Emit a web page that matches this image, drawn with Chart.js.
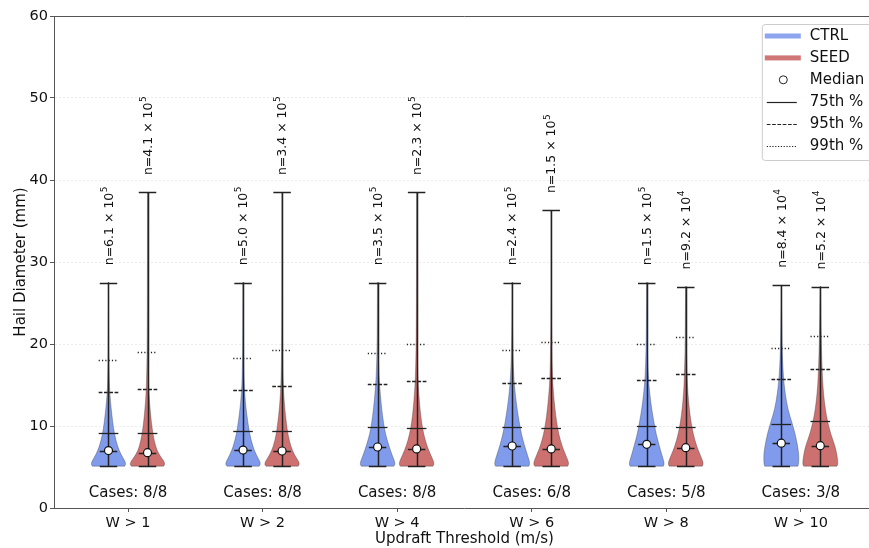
<!DOCTYPE html>
<html>
<head>
<meta charset="utf-8">
<script src="https://cdn.jsdelivr.net/npm/chart.js@4.4.0/dist/chart.umd.min.js"></script>
<style>
  html, body { margin: 0; padding: 0; overflow: hidden; background: #fff; }
</style>
</head>
<body>
<canvas id="grafico" width="880" height="548"></canvas>
<script>
// Datos
const categories = ["W > 1", "W > 2", "W > 4", "W > 6", "W > 8", "W > 10"];
const cases = ["8/8", "8/8", "8/8", "6/8", "5/8", "3/8"];

const ctrlN = ["6.1", "5.0", "3.5", "2.4", "1.5", "8.4"];
const ctrlExp = ["5", "5", "5", "5", "5", "4"];
const seedN = ["4.1", "3.4", "2.3", "1.5", "9.2", "5.2"];
const seedExp = ["5", "5", "5", "5", "4", "4"];

const ctrlMin = [5.1, 5.1, 5.1, 5.1, 5.1, 5.1];
const ctrlMax = [27.5, 27.5, 27.5, 27.5, 27.5, 27.2];
const ctrlMedian = [7.0, 7.07, 7.44, 7.56, 7.76, 7.9];
const ctrlP75 = [9.1, 9.4, 9.84, 9.9, 10.0, 10.3];
const ctrlP95 = [14.2, 14.4, 15.1, 15.3, 15.6, 15.7];
const ctrlP99 = [18.05, 18.3, 18.95, 19.27, 19.95, 19.55];

const seedMin = [5.1, 5.1, 5.1, 5.1, 5.1, 5.1];
const seedMax = [38.5, 38.5, 38.5, 36.3, 27.0, 27.0];
const seedMedian = [6.75, 6.95, 7.2, 7.2, 7.36, 7.6];
const seedP75 = [9.1, 9.4, 9.76, 9.76, 9.84, 10.65];
const seedP95 = [14.5, 14.9, 15.5, 15.8, 16.3, 16.95];
const seedP99 = [19.0, 19.3, 19.95, 20.3, 20.8, 21.0];

// perfil de densidad (ancho relativo) en estos niveles de diámetro
const densityLevels = [5.1, 5.3, 5.7, 6.5, 7.5, 9, 10.5, 12, 14, 16, 19, 23, 30, 38.5];
const ctrlDensity = [
  [0.92, 0.99, 0.95, 0.72, 0.52, 0.34, 0.24, 0.16, 0.07, 0.04, 0.02, 0.01, 0.005, 0],
  [0.92, 1.0, 0.96, 0.75, 0.56, 0.38, 0.27, 0.18, 0.09, 0.05, 0.025, 0.012, 0.005, 0],
  [0.93, 1.0, 0.97, 0.82, 0.66, 0.45, 0.33, 0.24, 0.15, 0.08, 0.035, 0.015, 0.005, 0],
  [0.95, 1.0, 0.99, 0.87, 0.72, 0.53, 0.4, 0.29, 0.17, 0.09, 0.04, 0.015, 0, 0],
  [0.95, 1.0, 0.98, 0.86, 0.73, 0.54, 0.41, 0.29, 0.17, 0.09, 0.04, 0.015, 0, 0],
  [0.95, 0.98, 1.0, 1.0, 0.94, 0.8, 0.6, 0.38, 0.22, 0.12, 0.05, 0.02, 0, 0]
];
const seedDensity = [
  [0.92, 1.0, 0.95, 0.66, 0.46, 0.31, 0.22, 0.15, 0.08, 0.05, 0.025, 0.012, 0.006, 0.003],
  [0.92, 1.0, 0.95, 0.7, 0.5, 0.33, 0.24, 0.16, 0.09, 0.05, 0.03, 0.015, 0.007, 0.003],
  [0.93, 1.0, 0.97, 0.8, 0.6, 0.4, 0.28, 0.2, 0.12, 0.07, 0.035, 0.015, 0.006, 0],
  [0.94, 1.0, 0.98, 0.82, 0.63, 0.43, 0.31, 0.22, 0.13, 0.07, 0.035, 0.015, 0.006, 0],
  [0.94, 1.0, 0.98, 0.82, 0.63, 0.43, 0.3, 0.21, 0.12, 0.08, 0.04, 0.02, 0, 0],
  [0.95, 1.0, 1.0, 0.95, 0.85, 0.6, 0.42, 0.29, 0.18, 0.12, 0.07, 0.03, 0, 0]
];

const FONT = '"DejaVu Sans", sans-serif';
const TXT = "#111";
const AXIS = "#555";

const grupos = [
  { name: "CTRL", offset: -0.145, fill: "rgb(128,155,235)", min: ctrlMin, max: ctrlMax, med: ctrlMedian,
    p75: ctrlP75, p95: ctrlP95, p99: ctrlP99, dens: ctrlDensity, n: ctrlN, exp: ctrlExp },
  { name: "SEED", offset: 0.145, fill: "rgb(205,112,112)", min: seedMin, max: seedMax, med: seedMedian,
    p75: seedP75, p95: seedP95, p99: seedP99, dens: seedDensity, n: seedN, exp: seedExp }
];

const HALF_W = 0.13;   // medio ancho máximo del violín (unidades de x)
const CAP_W = 0.065;
const PCT_W = 0.073;

function lado(ctx, P) {
  ctx.lineTo(P[0].x, P[0].y);
  for (let k = 1; k < P.length - 1; k++) {
    ctx.quadraticCurveTo(P[k].x, P[k].y, (P[k].x + P[k + 1].x) / 2, (P[k].y + P[k + 1].y) / 2);
  }
  ctx.lineTo(P[P.length - 1].x, P[P.length - 1].y);
}

function dibujarViolin(ctx, xs, ys, pos, dens, vmin, vmax, fill) {
  const cx = xs.getPixelForValue(pos);
  const pts = [];
  for (let k = 0; k < densityLevels.length; k++) {
    const lv = Math.max(densityLevels[k], vmin);
    if (lv >= vmax) {
      const f = dens[k - 1] + (dens[k] - dens[k - 1]) * (vmax - densityLevels[k - 1]) / (densityLevels[k] - densityLevels[k - 1]);
      pts.push({ v: vmax, f: f });
      break;
    }
    pts.push({ v: lv, f: dens[k] });
  }
  const px = pts.map(p => ({ y: ys.getPixelForValue(p.v), w: xs.getPixelForValue(pos + HALF_W * p.f) - cx }));
  ctx.beginPath();
  ctx.moveTo(cx, px[0].y);
  lado(ctx, px.map(p => ({ x: cx + p.w, y: p.y })));
  lado(ctx, px.slice().reverse().map(p => ({ x: cx - p.w, y: p.y })));
  ctx.closePath();
  ctx.fillStyle = fill;
  ctx.fill();
  ctx.lineWidth = 0.8;
  ctx.strokeStyle = "rgba(40,40,40,0.4)";
  ctx.stroke();
}

function hlinea(ctx, xs, ys, pos, half, v, dash, lw) {
  const y = Math.round(ys.getPixelForValue(v)) + 0.5;
  ctx.beginPath();
  ctx.setLineDash(dash);
  ctx.lineWidth = lw;
  ctx.moveTo(xs.getPixelForValue(pos - half), y);
  ctx.lineTo(xs.getPixelForValue(pos + half), y);
  ctx.stroke();
  ctx.setLineDash([]);
}

const violinPlugin = {
  id: "violines",
  beforeDatasetsDraw(chart) {
    const { ctx, scales: { x, y } } = chart;
    ctx.save();
    grupos.forEach(g => {
      categories.forEach((_, i) => {
        const pos = i + g.offset;
        dibujarViolin(ctx, x, y, pos, g.dens[i], g.min[i], g.max[i], g.fill);
        ctx.strokeStyle = "#222";
        // bigote vertical
        const cx = Math.round(x.getPixelForValue(pos)) + 0.5;
        ctx.beginPath();
        ctx.lineWidth = 1.5;
        ctx.moveTo(cx, y.getPixelForValue(g.min[i]));
        ctx.lineTo(cx, y.getPixelForValue(g.max[i]));
        ctx.stroke();
        hlinea(ctx, x, y, pos, CAP_W, g.min[i], [], 1.5);
        hlinea(ctx, x, y, pos, CAP_W, g.max[i], [], 1.5);
        hlinea(ctx, x, y, pos, CAP_W, g.med[i], [], 1.5);
        hlinea(ctx, x, y, pos, PCT_W, g.p75[i], [], 1.3);
        hlinea(ctx, x, y, pos, PCT_W, g.p95[i], [3.7, 1.6], 1.3);
        hlinea(ctx, x, y, pos, PCT_W, g.p99[i], [1.2, 2.1], 1.3);
      });
    });
    ctx.restore();
  },
  afterDatasetsDraw(chart) {
    const { ctx, scales: { x, y } } = chart;
    ctx.save();
    ctx.fillStyle = TXT;
    // etiquetas n=
    grupos.forEach(g => {
      categories.forEach((_, i) => {
        ctx.save();
        ctx.translate(x.getPixelForValue(i + g.offset) + 1, y.getPixelForValue(g.max[i] + 2.1));
        ctx.rotate(-Math.PI / 2);
        ctx.textAlign = "left";
        ctx.textBaseline = "middle";
        ctx.font = "12.5px " + FONT;
        const base = "n=" + g.n[i] + " \u00d7 10";
        ctx.fillText(base, 0, 0);
        const w = ctx.measureText(base).width;
        ctx.font = "9px " + FONT;
        ctx.fillText(g.exp[i], w + 0.5, -5);
        ctx.restore();
      });
    });
    // Cases
    ctx.font = "15px " + FONT;
    ctx.textAlign = "center";
    ctx.textBaseline = "middle";
    categories.forEach((_, i) => {
      ctx.fillText("Cases: " + cases[i], x.getPixelForValue(i), y.getPixelForValue(1.8));
    });
    ctx.restore();
  },
  afterDraw(chart) {
    const { ctx, chartArea: a } = chart;
    ctx.save();
    // borde superior
    ctx.strokeStyle = AXIS;
    ctx.lineWidth = 1;
    ctx.beginPath();
    ctx.moveTo(a.left, a.top + 0.5);
    ctx.lineTo(a.right, a.top + 0.5);
    ctx.stroke();
    // leyenda
    const L = a.right - 113, T = a.top + 8, W = 130, H = 136;
    ctx.beginPath();
    ctx.roundRect(L + 0.5, T + 0.5, W, H, 3);
    ctx.fillStyle = "rgba(255,255,255,0.85)";
    ctx.fill();
    ctx.strokeStyle = "#cccccc";
    ctx.stroke();
    const filas = ["CTRL", "SEED", "Median", "75th %", "95th %", "99th %"];
    ctx.font = "15px " + FONT;
    ctx.textAlign = "left";
    ctx.textBaseline = "middle";
    filas.forEach((t, k) => {
      const yy = T + 12 + k * 21.9;
      const x0 = L + 3, x1 = L + 38;
      ctx.strokeStyle = "#222";
      ctx.setLineDash([]);
      if (k < 2) {
        ctx.fillStyle = k === 0 ? "rgb(140,165,238)" : "rgb(208,118,118)";
        ctx.fillRect(x0, yy - 2.5, 36, 5);
      } else if (k === 2) {
        ctx.beginPath();
        ctx.arc((x0 + x1) / 2 + 1, yy, 4, 0, Math.PI * 2);
        ctx.fillStyle = "#fff";
        ctx.fill();
        ctx.lineWidth = 1;
        ctx.stroke();
      } else {
        ctx.lineWidth = 1.2;
        ctx.setLineDash(k === 3 ? [] : k === 4 ? [3.7, 1.6] : [1.2, 1.6]);
        ctx.beginPath();
        ctx.moveTo(x0 + 2, Math.round(yy) + 0.5);
        ctx.lineTo(x1 - 3, Math.round(yy) + 0.5);
        ctx.stroke();
        ctx.setLineDash([]);
      }
      ctx.fillStyle = TXT;
      ctx.fillText(t, L + 48, yy + 0.5);
    });
    ctx.restore();
  }
};

const ctx = document.getElementById("grafico").getContext("2d");

const chart = new Chart(ctx, {
  type: "scatter",
  data: {
    datasets: grupos.map(g => ({
      label: g.name + " median",
      data: categories.map((_, i) => ({ x: i + g.offset, y: g.med[i] })),
      pointRadius: 4,
      pointBackgroundColor: "#fff",
      pointBorderColor: "#111",
      pointBorderWidth: 1.2
    }))
  },
  options: {
    responsive: false,
    animation: false,
    events: [],
    layout: { padding: { top: 16, right: 2, left: 0, bottom: 0 } },
    plugins: {
      legend: { display: false },
      tooltip: { enabled: false }
    },
    scales: {
      x: {
        type: "linear",
        min: -0.55,
        max: 5.55,
        afterBuildTicks: s => { s.ticks = categories.map((_, i) => ({ value: i })); },
        afterFit: s => { s.height = 40; },
        ticks: {
          callback: v => categories[v],
          autoSkip: false,
          maxRotation: 0,
          padding: 3,
          color: TXT,
          font: { family: FONT, size: 14.5 }
        },
        grid: { drawOnChartArea: false, drawTicks: true, tickLength: 4, tickColor: AXIS, tickWidth: 1 },
        border: { color: AXIS, width: 1 },
        title: {
          display: true, text: "Updraft Threshold (m/s)", color: TXT,
          font: { family: FONT, size: 15 }, padding: { top: 0, bottom: 0 }
        }
      },
      y: {
        min: 0,
        max: 60,
        afterFit: s => { s.width = 54; },
        ticks: { stepSize: 10, padding: 2, color: TXT, font: { family: FONT, size: 14.5 } },
        grid: { color: "rgba(0,0,0,0.1)", lineWidth: 0.8, tickColor: AXIS, tickLength: 4, tickWidth: 1 },
        border: { color: AXIS, width: 1, dash: [2, 2] },
        title: {
          display: true, text: "Hail Diameter (mm)", color: TXT,
          font: { family: FONT, size: 15 }, padding: { top: 12, bottom: 0 }
        }
      }
    }
  },
  plugins: [violinPlugin]
});
</script>
</body>
</html>
